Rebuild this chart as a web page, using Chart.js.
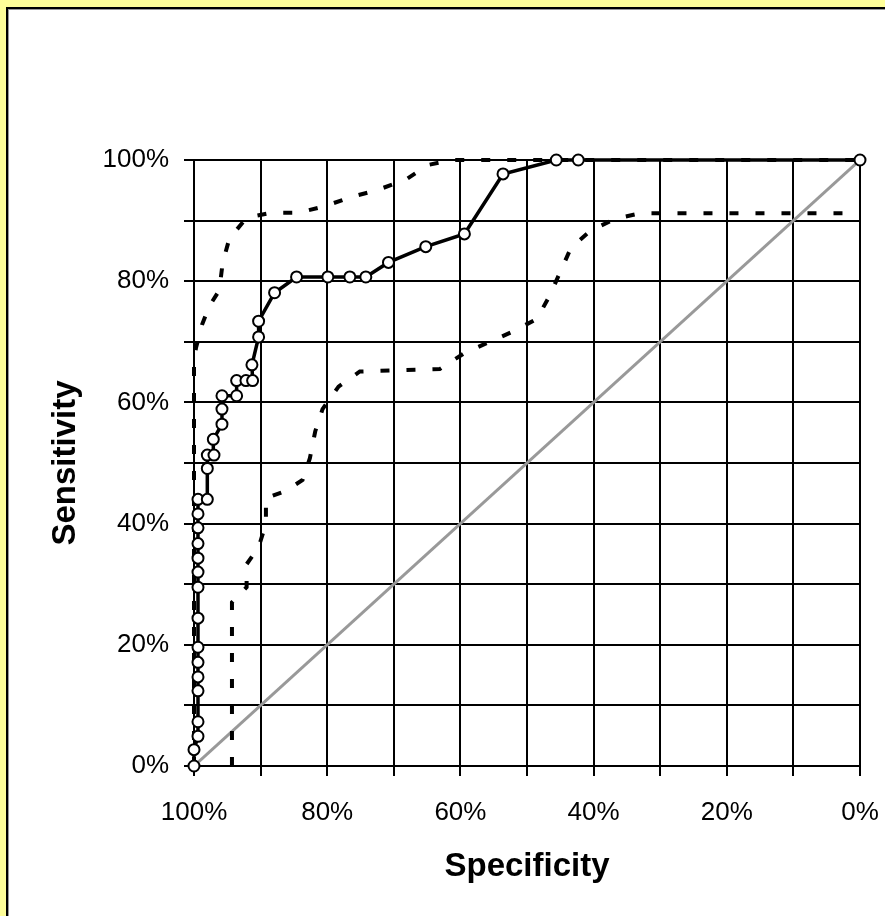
<!DOCTYPE html>
<html>
<head>
<meta charset="utf-8">
<script src="https://cdn.jsdelivr.net/npm/chart.js@4.4.0/dist/chart.umd.min.js"></script>
<style>
  html, body { margin: 0; padding: 0; background: #ffff99; overflow: hidden; }
  #frame {
    position: absolute; left: 6px; top: 7px; width: 1000px; height: 1000px;
    background: #fff; border-left: 2px solid #000; border-top: 2px solid #000;
    box-shadow: inset 1px 1px 0 #999;
  }
  #wrap { position: absolute; left: 0; top: 0; width: 885px; height: 916px; }
</style>
</head>
<body>
<div id="frame"></div>
<div id="wrap"><canvas id="roc"></canvas></div>
<script>
// ROC curve (specificity %, sensitivity %)
const rocSpec = [100, 100, 99.4, 99.4, 99.4, 99.4, 99.4, 99.4, 99.4, 99.4, 99.4, 99.4, 99.4, 99.4, 99.4, 99.4,
  98, 98, 98, 97, 97.1, 95.8, 95.8, 95.8, 93.6, 93.6, 92.2, 91.2, 91.3, 90.3, 90.3, 87.9,
  84.6, 79.9, 76.6, 74.2, 70.8, 65.2, 59.4, 53.6, 45.6, 42.3, 0];
const rocSens = [0, 2.7, 4.9, 7.3, 12.4, 14.7, 17.1, 19.6, 24.4, 29.5, 32, 34.3, 36.7, 39.3, 41.6, 44,
  44, 49.1, 51.3, 51.3, 53.9, 56.4, 58.9, 61.1, 61.1, 63.6, 63.6, 63.6, 66.2, 70.8, 73.4, 78.1,
  80.7, 80.7, 80.7, 80.7, 83.1, 85.7, 87.8, 97.7, 100, 100, 100];

// upper confidence band
const upperSpec = [100, 100, 99.7, 98.8, 97.7, 96.2, 95.7, 94.7, 92.1, 88.3, 84.3, 80.3, 76.4, 72.6, 68.3, 64.8, 61.3, 0];
const upperSens = [0, 67, 69, 72.8, 75.9, 78.5, 83, 87, 90.5, 91.3, 91.3, 92.4, 93.9, 95, 96.7, 99.2, 100, 100];

// lower confidence band
const lowerSpec = [94.3, 94.3, 92.1, 92.1, 90.3, 89.2, 89.2, 86.2, 83.7, 82.6, 81.8, 80.7, 78.3, 75.1,
  63.1, 59.3, 55.8, 52.1, 48.5, 46.6, 45.1, 43.4, 40.4, 36.7, 33, 0];
const lowerSens = [0, 27, 29.5, 33.3, 36.1, 40, 44.2, 45.4, 47.2, 50.8, 55.2, 58.9, 62.6, 65.1,
  65.5, 68.2, 69.9, 71.7, 73.8, 77.6, 81.3, 85.5, 88.4, 90.3, 91.2, 91.2];

// chance line
const diagSpec = [100, 0];
const diagSens = [0, 100];

const pts = (xs, ys) => xs.map((x, i) => ({ x: x, y: ys[i] }));
const pct = (v) => (v % 20 === 0 ? v + "%" : "");

const tickFont = { family: "'Liberation Sans', Arial, sans-serif", size: 26 };
const titleFont = { family: "'Liberation Sans', Arial, sans-serif", size: 33, weight: "bold", lineHeight: 1.2 };

new Chart(document.getElementById("roc"), {
  type: "line",
  data: {
    datasets: [
      {
        data: pts(rocSpec, rocSens),
        borderColor: "#000",
        borderWidth: 3.5,
        pointRadius: 5.5,
        pointBorderWidth: 2,
        pointBackgroundColor: "#fff",
        pointBorderColor: "#000",
        tension: 0,
        clip: false,
      },
      {
        data: pts(upperSpec, upperSens),
        borderColor: "#000",
        borderWidth: 4,
        borderDash: [9, 17],
        pointRadius: 0,
        tension: 0,
        clip: false,
      },
      {
        data: pts(lowerSpec, lowerSens),
        borderColor: "#000",
        borderWidth: 4,
        borderDash: [9, 17],
        pointRadius: 0,
        tension: 0,
        clip: false,
      },
      {
        data: pts(diagSpec, diagSens),
        borderColor: "#999",
        borderWidth: 3,
        pointRadius: 0,
      },
    ],
  },
  options: {
    responsive: true,
    maintainAspectRatio: false,
    animation: false,
    layout: { padding: { left: 0, top: 160, right: 25, bottom: 0 } },
    plugins: { legend: { display: false }, tooltip: { enabled: false } },
    scales: {
      x: {
        type: "linear",
        reverse: true,
        min: 0,
        max: 100,
        afterFit: (scale) => {
          scale.height = 150;
          scale.paddingLeft = 0;
          scale.paddingRight = 0;
        },
        grid: { color: "#000", lineWidth: 2, tickLength: 10 },
        border: { color: "#000", width: 2 },
        ticks: { stepSize: 10, autoSkip: false, maxRotation: 0, color: "#000", font: tickFont, padding: 21, callback: pct },
        title: { display: true, text: "Specificity", color: "#000", font: titleFont, padding: { bottom: 29 } },
      },
      y: {
        min: 0,
        max: 100,
        afterFit: (scale) => {
          scale.width = 194;
          scale.paddingTop = 0;
          scale.paddingBottom = 0;
        },
        grid: { color: "#000", lineWidth: 2, tickLength: 10 },
        border: { color: "#000", width: 2 },
        ticks: { stepSize: 10, autoSkip: false, color: "#000", font: tickFont, padding: 15, callback: pct },
        title: { display: true, text: "Sensitivity", color: "#000", font: titleFont, padding: { top: 46 } },
      },
    },
  },
});
</script>
</body>
</html>
